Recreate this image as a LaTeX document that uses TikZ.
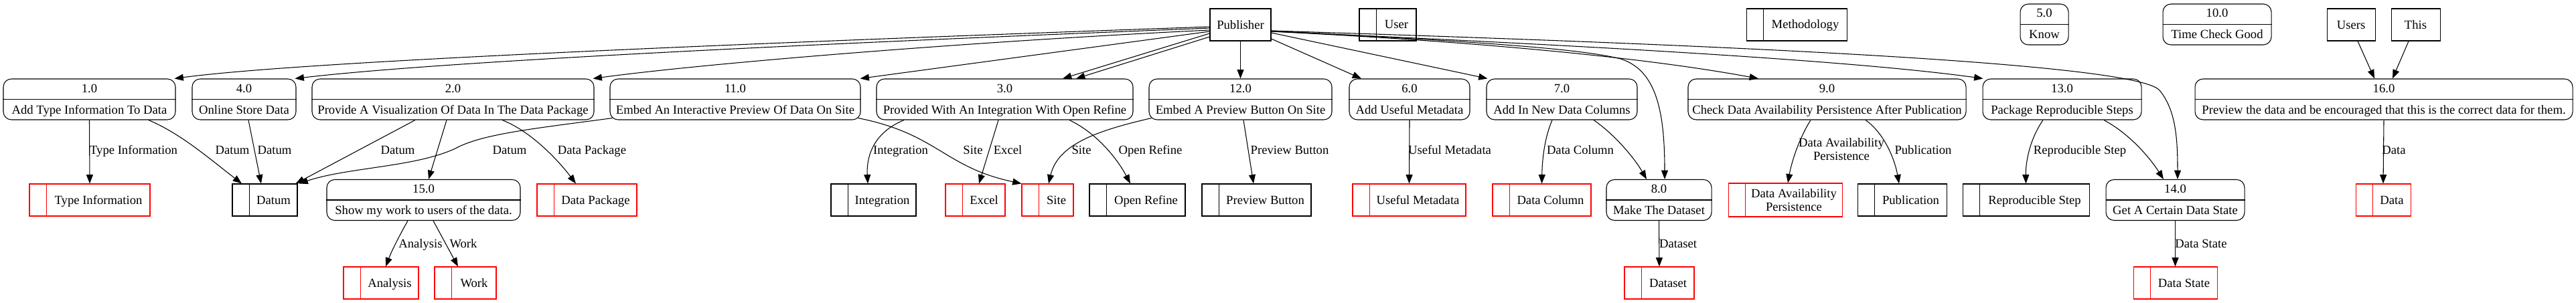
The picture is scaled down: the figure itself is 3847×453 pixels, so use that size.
\documentclass[tikz,border=0pt]{standalone}
\usepackage{fontspec}
\setmainfont{Liberation Serif}
\usetikzlibrary{arrows.meta,calc}
\tikzset{
  every node/.style={font=\fontsize{14pt}{15pt}\selectfont},
  dfdbox/.style={draw, line width=0.8pt, inner sep=0pt},
  dproc/.style={dfdbox, rounded corners=9pt, minimum height=45.75pt},
  dent/.style={dfdbox, minimum height=36pt},
  dstore/.style={dfdbox, minimum height=36pt},
  dtxt/.style={inner sep=0pt, anchor=base},
  dlbl/.style={inner sep=0pt, anchor=base},
  dflow/.style={line width=0.8pt, -{Triangle[length=10pt,width=7.5pt]}},
}
\newcommand\dfdproc[6]{%
  \node[dproc, minimum width=#4pt] (#1) at (#2,#3) {};
  \draw[line width=0.8pt] (#1.west) -- (#1.east);
  \node[dtxt] (#1-num) at ($(#1.center)+(0,-10.5)$) {#5};
  \node[dtxt] (#1-txt) at ($(#1.center)+(0,21.5)$) {#6};
}
\newcommand\dfdstore[6]{%
  \node[dstore, draw=#5, minimum width=#4pt] (#1) at (#2,#3) {};
  \draw[line width=0.8pt, #5] ($(#1.north west)+(26,0)$) -- ($(#1.south west)+(26,0)$);
  \node[dtxt] (#1-txt) at ($(#1.center)+(13,6)$) {#6};
}
\begin{document}
\begin{tikzpicture}[x=0.75pt, y=-0.75pt]
\useasboundingbox (0,0) rectangle (3847,453);

% external entities
\node[dent, minimum width=68.25pt] (pub) at (1852.5,37) {Publisher};
\node[dent, minimum width=54pt] (users) at (3511,37) {Users};
\node[dent, minimum width=54.75pt] (this) at (3607.5,37) {This};

% processes
\dfdproc{p1}{133.5}{148.5}{192.75}{1.0}{Add Type Information To Data}
\dfdproc{p4}{364.5}{148.5}{116.25}{4.0}{Online Store Data}
\dfdproc{p2}{676.5}{148.5}{315.75}{2.0}{Provide A Visualization Of Data In The Data Package}
\dfdproc{p11}{1098}{148.5}{280.5}{11.0}{Embed An Interactive Preview Of Data On Site}
\dfdproc{p3}{1500.5}{148.5}{287.25}{3.0}{Provided With An Integration With Open Refine}
\dfdproc{p12}{1852.5}{148.5}{204.75}{12.0}{Embed A Preview Button On Site}
\dfdproc{p6}{2105}{148.5}{135}{6.0}{Add Useful Metadata}
\dfdproc{p7}{2332.5}{148.5}{168.75}{7.0}{Add In New Data Columns}
\dfdproc{p9}{2728.5}{148.5}{311.25}{9.0}{Check Data Availability Persistence After Publication}
\dfdproc{p13}{3079.5}{148.5}{177.75}{13.0}{Package Reproducible Steps}
\dfdproc{p16}{3560}{148.5}{423}{16.0}{Preview the data and be encouraged that this is the correct data for them.}
\dfdproc{p15}{632.5}{299}{216.75}{15.0}{Show my work to users of the data.}
\dfdproc{p8}{2477.5}{299}{117.75}{8.0}{Make The Dataset}
\dfdproc{p14}{3248.5}{299}{155.25}{14.0}{Get A Certain Data State}
\dfdproc{p5}{3053}{36.5}{54}{5.0}{Know}
\dfdproc{p10}{3311}{36.5}{121.5}{10.0}{Time Check Good}

% data stores
\dfdstore{suser}{2072.5}{37}{63.75}{black}{User}
\dfdstore{smeth}{2683}{37}{112.5}{black}{Methodology}
\dfdstore{sti}{134}{299}{135}{red}{Type Information}
\dfdstore{sdatum}{395.5}{299}{72.75}{black}{Datum}
\dfdstore{sdpkg}{876.5}{299}{111.75}{red}{Data Package}
\dfdstore{sinteg}{1304.5}{299}{95.25}{black}{Integration}
\dfdstore{sexcel}{1456.5}{299}{66.75}{red}{Excel}
\dfdstore{ssite}{1564.5}{299}{57.75}{red}{Site}
\dfdstore{sopen}{1698.5}{299}{107.25}{black}{Open Refine}
\dfdstore{sprev}{1876.5}{299}{122.25}{black}{Preview Button}
\dfdstore{sumd}{2104.5}{299}{126.75}{red}{Useful Metadata}
\dfdstore{sdcol}{2302.5}{299}{110.25}{red}{Data Column}
\node[dstore, draw=red, minimum width=127.5pt, minimum height=37.5pt] (sdap) at (2666,299) {};
\draw[line width=0.8pt, red] ($(sdap.north west)+(26,0)$) -- ($(sdap.south west)+(26,0)$);
\node[inner sep=0pt, align=center] (sdap-txt) at ($(sdap.center)+(13,0)$) {Data Availability\\Persistence};
\dfdstore{spubl}{2840.5}{299}{99.75}{black}{Publication}
\dfdstore{srepro}{3025.5}{299}{141.75}{black}{Reproducible Step}
\dfdstore{sdata}{3559}{299}{61.5}{red}{Data}
\dfdstore{sanal}{569}{423}{84}{red}{Analysis}
\dfdstore{swork}{695}{423}{69}{red}{Work}
\dfdstore{sdset}{2478}{423}{78}{red}{Dataset}
\dfdstore{sdstate}{3248.5}{423}{93.75}{red}{Data State}

% flows from Publisher
\draw[dflow] ($(pub.west)+(0,3)$) .. controls (1100,65) and (450,92) .. ($(p1.north east)+(-2,0)$);
\draw[dflow] ($(pub.west)+(0,5)$) .. controls (1150,68) and (650,93) .. ($(p4.north east)+(-2,0)$);
\draw[dflow] ($(pub.west)+(0,8)$) .. controls (1450,62) and (1050,95) .. ($(p2.north east)+(-2,0)$);
\draw[dflow] ($(pub.west)+(0,10)$) -- ($(p11.north east)+(-1,0)$);
\draw[dflow] ($(pub.west)+(0,13)$) -- ($(p3.north)+(86.5,0)$);
\draw[dflow] ($(pub.west)+(0,18)$) -- ($(p3.north)+(106.5,0)$);
\draw[dflow] (pub.south) -- (p12.north);
\draw[dflow] ($(pub.east)+(0,21)$) -- ($(p6.north)+(-72,0)$);
\draw[dflow] ($(pub.east)+(0,12)$) -- ($(p7.north west)+(2,0)$);
\draw[dflow] ($(pub.east)+(0,9)$) .. controls (2150,60) and (2350,70) .. (2420,88) .. controls (2475,105) and (2486,170) .. ($(p8.north)+(8.5,0)$);
\draw[dflow] ($(pub.east)+(0,10)$) .. controls (2200,62) and (2450,85) .. ($(p9.north)+(-102.5,0)$);
\draw[dflow] ($(pub.east)+(0,10)$) .. controls (2300,65) and (2750,88) .. ($(p13.north west)+(1,0)$);
\draw[dflow] ($(pub.east)+(0,9)$) .. controls (2600,68) and (3190,95) .. (3225,135) .. controls (3250,165) and (3252,210) .. ($(p14.north)+(3.5,0)$);

% flows from processes
\draw[dflow] (p1.south) -- (sti.north);
\draw[dflow] ($(p1.south)+(88.5,0)$) .. controls (270,200) and (310,235) .. ($(sdatum.north)+(-34.5,0)$);
\draw[dflow] ($(p4.south)+(6.5,0)$) -- ($(sdatum.north)+(-5.5,0)$);
\draw[dflow] ($(p2.south)+(-56.5,0)$) -- ($(sdatum.north)+(46,0)$);
\draw[dflow] ($(p11.south west)+(4,-3)$) .. controls (800,192) and (720,200) .. (680,222) .. controls (620,250) and (520,250) .. ($(sdatum.north east)+(2,0)$);
\draw[dflow] ($(p2.south)+(-9.5,0)$) -- ($(p15.north)+(7.5,0)$);
\draw[dflow] ($(p2.south)+(73.5,0)$) .. controls (790,195) and (830,235) .. ($(sdpkg.north)+(-16.5,0)$);
\draw[dflow] ($(p15.south)+(-23.5,0)$) .. controls (595,355) and (585,375) .. ($(sanal.north)+(7,0)$);
\draw[dflow] ($(p15.south)+(14.5,0)$) -- ($(swork.north)+(-11,0)$);
\draw[dflow] ($(p3.south)+(-150.5,0)$) .. controls (1300,200) and (1294,240) .. ($(sinteg.north)+(-8.5,0)$);
\draw[dflow] ($(p11.south east)+(-4,-3)$) .. controls (1400,200) and (1410,250) .. (ssite.north west);
\draw[dflow] ($(p3.south)+(-9.5,0)$) -- ($(sexcel.north)+(5.5,0)$);
\draw[dflow] ($(p12.south west)+(4,-3)$) .. controls (1640,195) and (1580,215) .. ($(ssite.north)+(1.5,0)$);
\draw[dflow] ($(p3.south)+(96.5,0)$) .. controls (1640,200) and (1670,240) .. ($(sopen.north)+(-10.5,0)$);
\draw[dflow] ($(p12.south)+(4.5,0)$) -- ($(sprev.north)+(-4.5,0)$);
\draw[dflow] (p6.south) -- (sumd.north);
\draw[dflow] ($(p7.south)+(-14.5,0)$) .. controls (2305,210) and (2303,245) .. (sdcol.north);
\draw[dflow] ($(p7.south)+(47.5,0)$) .. controls (2410,200) and (2440,235) .. ($(p8.north)+(-18.5,0)$);
\draw[dflow] (p8.south) -- (sdset.north);
\draw[dflow] ($(p9.south)+(-24.5,0)$) .. controls (2685,210) and (2675,245) .. ($(sdap.north)+(4,0)$);
\draw[dflow] ($(p9.south)+(57.5,0)$) .. controls (2815,200) and (2830,240) .. ($(spubl.north)+(-4.5,0)$);
\draw[dflow] ($(p13.south)+(-28.5,0)$) .. controls (3030,210) and (3025,245) .. (srepro.north);
\draw[dflow] ($(p13.south)+(62.5,0)$) .. controls (3180,200) and (3210,235) .. ($(p14.north)+(-17.5,0)$);
\draw[dflow] (p14.south) -- (sdstate.north);
\draw[dflow] (p16.south) -- (sdata.north);
\draw[dflow] ($(users.south)+(10,0)$) -- ($(p16.north)+(-14,0)$);
\draw[dflow] ($(this.south)+(-10.5,0)$) -- ($(p16.north)+(13,0)$);

% flow labels
\node[dlbl] (l-ti) at (199.5,230) {Type Information};
\node[dlbl] (l-d1) at (347,230) {Datum};
\node[dlbl] (l-d4) at (410,230) {Datum};
\node[dlbl] (l-d2) at (594,230) {Datum};
\node[dlbl] (l-d11) at (761,230) {Datum};
\node[dlbl] (l-dp) at (884,230) {Data Package};
\node[dlbl] (l-an) at (628,370) {Analysis};
\node[dlbl] (l-wk) at (692,370) {Work};
\node[dlbl] (l-in) at (1345,230) {Integration};
\node[dlbl] (l-s11) at (1453,230) {Site};
\node[dlbl] (l-ex) at (1505,230) {Excel};
\node[dlbl] (l-s12) at (1615,230) {Site};
\node[dlbl] (l-or) at (1718,230) {Open Refine};
\node[dlbl] (l-pb) at (1926,230) {Preview Button};
\node[dlbl] (l-um) at (2165,230) {Useful Metadata};
\node[dlbl] (l-dc) at (2360,230) {Data Column};
\node[dlbl] (l-ds) at (2506,370) {Dataset};
\node[inner sep=0pt, align=center] (l-dap) at (2750,223) {Data Availability\\Persistence};
\node[dlbl] (l-pu) at (2872,230) {Publication};
\node[dlbl] (l-rs) at (3106,230) {Reproducible Step};
\node[dlbl] (l-dst) at (3287,370) {Data State};
\node[dlbl] (l-da) at (3575,230) {Data};
\end{tikzpicture}
\end{document}
